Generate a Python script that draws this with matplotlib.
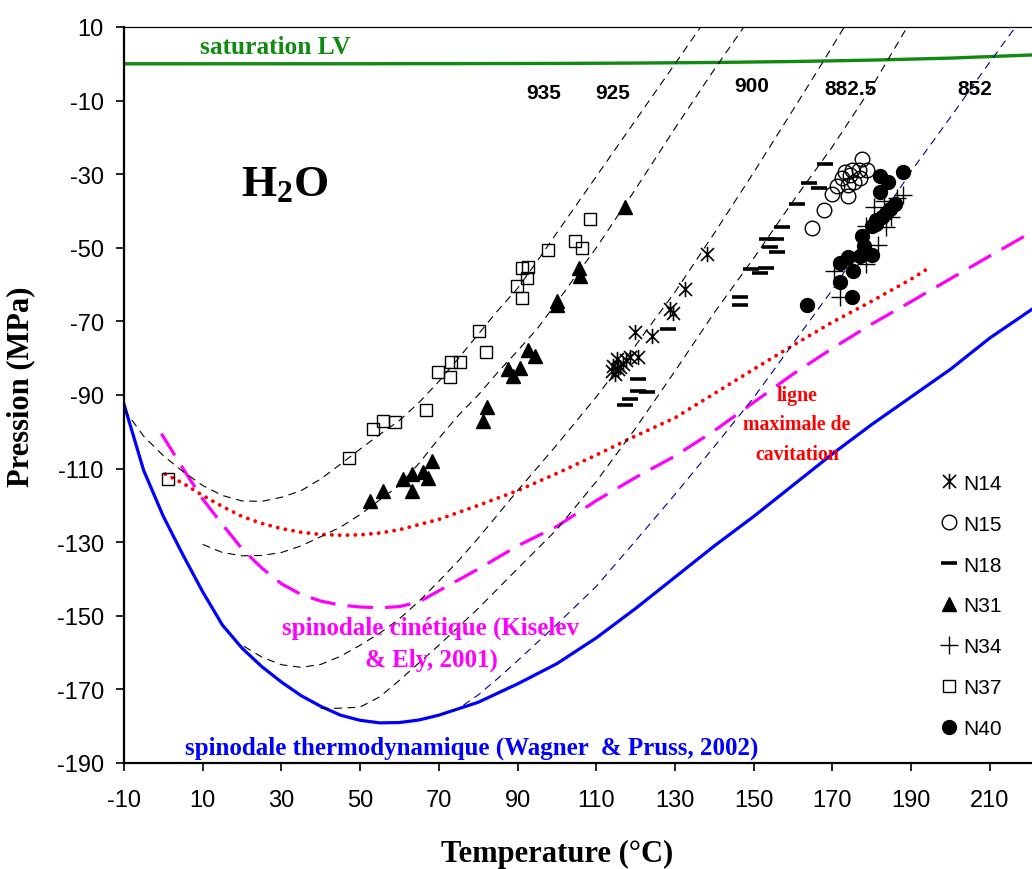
import matplotlib
matplotlib.use("Agg")
import matplotlib.pyplot as plt
from matplotlib.path import Path
import numpy as np

plt.rcParams['mathtext.fontset'] = 'custom'
plt.rcParams['mathtext.rm'] = 'Liberation Serif:bold'
plt.rcParams['mathtext.bf'] = 'Liberation Serif:bold'
plt.rcParams['mathtext.it'] = 'Liberation Serif:bold'
plt.rcParams['axes.unicode_minus'] = False

# ---------------- data ----------------
sat_T = [-10, 0, 50, 100, 120, 140, 160, 180, 200, 220.7]
sat_P = [0, 0, 0.01, 0.1, 0.2, 0.36, 0.62, 1.0, 1.55, 2.4]

spin_T = [-10, -5, 0, 5, 10, 15, 20, 25, 30, 35, 40, 45, 50, 55, 60, 65, 70, 80, 90,
          100, 110, 120, 130, 140, 150, 160, 170, 180, 190, 200, 210, 220.7]
spin_P = [-92.5, -110.5, -123, -133.5, -143.5, -152.5, -158.8, -163.8, -168, -171.7, -174.6,
          -177, -178.4, -179.1, -179, -178.3, -177, -173.5, -168.5, -163, -156, -148, -139.5,
          -131, -123, -114.5, -106, -98, -90.5, -83, -74.5, -66.7]

kin_T = [-0.5, 5, 10, 15, 20, 25, 30, 35, 40, 45, 50, 55, 60, 65, 70, 80, 90, 100, 110,
         120, 130, 140, 150, 160, 170, 180, 190, 200, 210, 220.7]
kin_P = [-100.5, -110, -118.3, -125.2, -131.8, -137.0, -141.3, -144.2, -146.0, -147.1, -147.6,
         -147.8, -147.5, -146.2, -143.2, -137.3, -131, -125.7, -118.7, -112.4, -106.6,
         -99.7, -92, -84.3, -77.3, -70.7, -64.6, -58.4, -52.2, -45.7]

cav_T = [0.5, 5, 10, 15, 20, 25, 30, 35, 40, 45, 50, 55, 60, 70, 80, 90, 100, 110, 120,
         130, 140, 150, 160, 170, 180, 190, 194]
cav_P = [-111.5, -114, -117.3, -120.3, -123, -124.9, -126.3, -127.3, -127.9, -128.1,
         -128.0, -127.5, -126.6, -123.8, -120, -116, -111.3, -106.3, -101.1, -96.2,
         -89.6, -83, -76.5, -70.2, -64.5, -58.5, -55.8]

iso935_T = [-10, -5, 0, 5, 10, 15, 20, 25, 30, 35, 40, 45, 50, 55, 60, 65, 70, 75, 80,
            85, 90, 95, 100, 110, 120, 130, 136.5]
iso935_P = [-93.9, -101.2, -106.5, -110.8, -114.6, -117.3, -118.8, -118.9, -117.8, -116,
            -112.8, -108.8, -104.7, -100.7, -96.9, -92, -86.3, -80, -73.5, -67, -61,
            -53.6, -45.9, -30.6, -15.3, 0, 10]

iso925_T = [10, 15, 20, 25, 30, 35, 40, 45, 50, 55, 60, 65, 70, 75, 80, 85, 90, 95, 100,
            105, 110, 115, 120, 130, 140, 147.5]
iso925_P = [-130.6, -132.8, -133.7, -133.6, -132.8, -131, -128.5, -125.9, -122.5, -118.5,
            -114.5, -108.5, -101.8, -95.5, -90, -83.8, -78, -72, -64.8, -57.3, -50, -42,
            -34, -17.5, -1.5, 10]

iso900_T = [20.5, 25, 30, 35, 40, 45, 50, 55, 60, 65, 70, 75, 80, 90, 100, 110, 120, 130,
            140, 150, 160, 167, 173]
iso900_P = [-158.3, -161.2, -163.3, -164, -163.2, -161, -158, -154.7, -150.8, -146, -140.6,
            -135, -128.9, -116, -103.5, -90.5, -76.5, -62, -46, -29.5, -12.5, -0.5, 10]

iso882_T = [40, 45, 50, 55, 60, 70, 80, 90, 100, 110, 120, 130, 140, 150, 160, 170, 180, 189]
iso882_P = [-175.2, -175.1, -174.8, -172, -167.5, -158, -148, -137.2, -126.5, -113.5, -99,
            -83.5, -67.6, -52.8, -37.3, -22.5, -6.3, 10]

iso852_T = [70, 75, 80, 85, 90, 100, 110, 120, 130, 140, 150, 160, 170, 180, 190, 200, 210, 216.5]
iso852_P = [-177, -175.2, -171.5, -167, -162.2, -152.3, -142, -129.6, -117, -104, -90.7,
            -76, -61.4, -45.4, -29.2, -14.5, 0.5, 10]

N14_T = [138.1, 132.5, 128.7, 129.5, 119.8, 124.1, 120.6, 118.6, 116.8, 115.2, 116, 114.3,
         114, 114.7, 117.5, 115.5]
N14_P = [-51.7, -61.2, -66.7, -67.6, -73, -74, -79.7, -79.7, -81.6, -80.3, -82.4, -82.2,
         -83.5, -84.3, -80.5, -83]

N15_T = [164.8, 167.9, 169.9, 171.2, 174, 174, 173.2, 174.5, 175, 176.7, 177, 178.8, 177.5,
         172.5, 175.5]
N15_P = [-44.6, -39.8, -35.4, -33.2, -36, -33, -29.5, -30.2, -28.9, -28.9, -31.1, -28.9,
         -25.9, -31, -32]

N18_T = [168.1, 164, 166.5, 161, 157.2, 153.3, 155.6, 154.1, 156, 149.3, 153, 151.6, 146.5,
         146.5, 128.2, 120.6, 120.5, 123, 118.6, 117.3]
N18_P = [-27.2, -32.5, -33.8, -38.1, -44.4, -47.6, -47.6, -49.8, -51.1, -55.8, -55.5, -56.9,
         -63.4, -65.6, -72.1, -85.7, -89, -89.2, -91.1, -92.8]

N31_T = [117.3, 105.6, 105.9, 100, 100, 92.6, 94.4, 90.6, 87.6, 88.8, 82.2, 81.2, 52.5,
         55.8, 60.9, 63.2, 63.2, 66, 67.2, 68.2]
N31_P = [-39, -55.5, -57.6, -64.5, -65.6, -77.8, -79.4, -82.7, -83, -84.9, -93.3, -97.1,
         -118.9, -116.2, -112.9, -111.5, -116.2, -111, -112.6, -108]

N34_T = [188, 186.5, 183, 180.5, 185, 183.5, 178.5, 181.5, 178.5, 170.3, 172]
N34_P = [-35.6, -36.5, -37.3, -39, -41.7, -44.4, -44.2, -49.2, -54.4, -56.4, -63.3]

N37_T = [1.2, 47.2, 53.3, 55.8, 58.9, 66.7, 69.8, 72.8, 73.2, 75.4, 80.2, 82, 89.9, 91.1,
         91.1, 92.6, 92.4, 97.7, 104.6, 106.4, 108.4]
N37_P = [-112.9, -107.2, -99.3, -97.1, -97.4, -94.1, -83.8, -85.2, -81, -81, -72.7, -78.3,
         -60.4, -63.7, -55.5, -55.3, -58.3, -50.6, -48.2, -50.1, -42.2]

N40_T = [163.5, 175, 172, 175.3, 172, 174, 177, 180, 178, 177.5, 180, 181, 181, 182.5,
         183.5, 184.5, 186, 182, 184, 182, 188]
N40_P = [-65.6, -63.3, -59.2, -56.3, -54.2, -52.4, -52.3, -52, -49.5, -46.8, -44, -43.6,
         -42.5, -41.5, -40.5, -39.5, -38.2, -34.8, -32.2, -30.5, -29.4]

iso_labels = ["935", "925", "900", "882.5", "852"]
iso_label_T = [96.7, 114.2, 149.5, 174.7, 206.2]
iso_label_P = [-7.7, -7.7, -5.8, -6.6, -6.6]

xticks = list(range(-10, 211, 20))
yticks = list(range(-190, 11, 20))

# ---------------- figure ----------------
W, H = 1032, 870
fig = plt.figure(figsize=(W / 100, H / 100), dpi=100)
left_px, right_px, top_px, bot_px = 124, 1032, 28, 764
ax = fig.add_axes([left_px / W, 1 - bot_px / H, (right_px - left_px) / W, (bot_px - top_px) / H])
ax.set_xlim(-10, 220.7)
ax.set_ylim(-190, 10)

serif = 'Liberation Serif'
sans = 'Liberation Sans'

# curves
ax.plot(sat_T, sat_P, color='#108a10', lw=2.4, zorder=2)
ax.plot(spin_T, spin_P, color='#0000ff', lw=2.3, zorder=2, solid_joinstyle='round')
ax.plot(kin_T, kin_P, color='#ff00ff', lw=2.3, ls=(0, (8, 3.8)), zorder=2)
ax.plot(cav_T, cav_P, color='#ff0000', lw=2.8, ls=(0, (0.01, 2.0)),
        dash_capstyle='round', zorder=2)
iso_style = dict(lw=0.8, ls=(0, (7, 5)), zorder=2)
ax.plot(iso935_T, iso935_P, color='black', **iso_style)
ax.plot(iso925_T, iso925_P, color='black', **iso_style)
ax.plot(iso900_T, iso900_P, color='black', **iso_style)
ax.plot(iso882_T, iso882_P, color='black', **iso_style)
ax.plot(iso852_T, iso852_P, color='#000080', **iso_style)

# markers
star = Path([(0, -1), (0, 1), (-0.85, -0.85), (0.85, 0.85), (-0.85, 0.85), (0.85, -0.85)],
            [Path.MOVETO, Path.LINETO, Path.MOVETO, Path.LINETO, Path.MOVETO, Path.LINETO])
ax.plot(N14_T, N14_P, ls='none', marker=star, ms=11, mew=1.2, color='black', label='N14', zorder=3)
ax.plot(N15_T, N15_P, ls='none', marker='o', ms=10.5, mew=1.0, mfc='none', mec='black', label='N15', zorder=3)
ax.plot(N18_T, N18_P, ls='none', marker='_', ms=11, mew=2.6, color='black', label='N18', zorder=3)
ax.plot(N31_T, N31_P, ls='none', marker='^', ms=10, color='black', label='N31', zorder=3)
ax.plot(N34_T, N34_P, ls='none', marker='+', ms=13, mew=1.0, color='black', label='N34', zorder=3)
ax.plot(N37_T, N37_P, ls='none', marker='s', ms=9, mew=1.0, mfc='none', mec='black', label='N37', zorder=3)
ax.plot(N40_T, N40_P, ls='none', marker='o', ms=10, color='black', label='N40', zorder=3)

leg = ax.legend(loc='upper left', bbox_to_anchor=(0.897, 0.393), frameon=False,
                prop={'family': sans, 'size': 15}, numpoints=1, handlelength=1.0,
                handletextpad=0.2, labelspacing=1.05, borderpad=0, borderaxespad=0)

# texts
ax.text(28.4, 4.8, 'saturation LV', color='#108a10', fontsize=18.3, fontweight='bold',
        family=serif, ha='center', va='center')
for lab, t, p in zip(iso_labels, iso_label_T, iso_label_P):
    ax.text(t, p, lab, fontsize=15, fontweight='bold', family=sans, ha='center', va='center')
ax.text(30.9, -32.2, r'$\mathrm{H_2O}$', fontsize=32.5, ha='center', va='center')
ax.text(161, -98.0, 'ligne\nmaximale de\ncavitation', color='#ff0000', fontsize=14.3,
        fontweight='bold', family=serif, ha='center', va='center', linespacing=1.62,
        multialignment='center')
ax.text(68, -157.5, 'spinodale cinétique (Kiselev\n& Ely, 2001)', color='#ff00ff', fontsize=18,
        fontweight='bold', family=serif, ha='center', va='center', linespacing=1.45,
        multialignment='center')
ax.text(78.4, -185.8, 'spinodale thermodynamique (Wagner  & Pruss, 2002)', color='#0000ff',
        fontsize=18, fontweight='bold', family=serif, ha='center', va='center')

# axes styling
ax.set_xticks(xticks)
ax.set_yticks(yticks)
ax.tick_params(axis='both', direction='out', length=5.5, width=1.2, labelsize=17)
ax.tick_params(axis='y', pad=9)
ax.tick_params(axis='x', pad=13)
for lbl in ax.get_xticklabels() + ax.get_yticklabels():
    lbl.set_family(sans)
ax.spines['left'].set_linewidth(1.6)
ax.spines['bottom'].set_linewidth(1.6)
ax.spines['top'].set_linewidth(0.9)
ax.spines['right'].set_visible(False)

ax.set_xlabel('Temperature (°C)', fontsize=22, fontweight='bold', family=serif)
ax.set_ylabel('Pression (MPa)', fontsize=22, fontweight='bold', family=serif)
ax.xaxis.set_label_coords((557 - left_px) / (right_px - left_px), (bot_px - 840) / (bot_px - top_px))
ax.yaxis.set_label_coords((35 - left_px) / (right_px - left_px), (bot_px - 387) / (bot_px - top_px))

fig.savefig('out.png', dpi=100)
